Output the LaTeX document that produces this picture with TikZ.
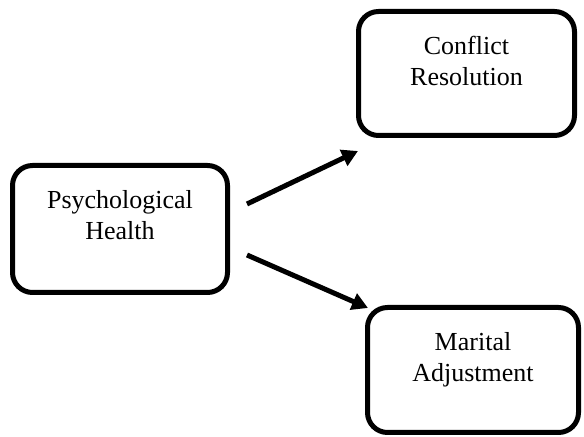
\documentclass[tikz,border=0pt]{standalone}
\usepackage{fontspec}
\setmainfont{Liberation Serif}
\usetikzlibrary{arrows.meta}

\tikzset{
  box/.style={draw, line width=2.5pt, rounded corners=10pt, outer sep=0pt, inner sep=0pt},
  boxtext/.style={anchor=north, yshift=-12.3pt, inner sep=0pt, align=center,
    font=\fontsize{13}{15.5}\selectfont},
  link/.style={draw, line width=2.5pt, -{Triangle[length=8pt,width=8.5pt]}}
}

\begin{document}
\begin{tikzpicture}[x=0.5pt,y=-0.5pt]
\useasboundingbox (0,0) rectangle (584,437);
\node [box, minimum width=107.5pt, minimum height=63.5pt,
  label={[boxtext]north:Psychological\\Health}] (health) at (120,229) {};
\node [box, minimum width=108pt, minimum height=62pt,
  label={[boxtext]north:Conflict\\Resolution}] (conflict) at (466.5,73.5) {};
\node [box, minimum width=105.5pt, minimum height=62.5pt,
  label={[boxtext]north:Marital\\Adjustment}] (marital) at (473,370) {};
\path [link] ([shift={(19.5,-25)}]health.east) -- ([shift={(-0.5,15.5)}]conflict.south west);
\path [link] ([shift={(19.5,26)}]health.east) -- ([shift={(0.5,0.5)}]marital.north west);
\end{tikzpicture}
\end{document}
